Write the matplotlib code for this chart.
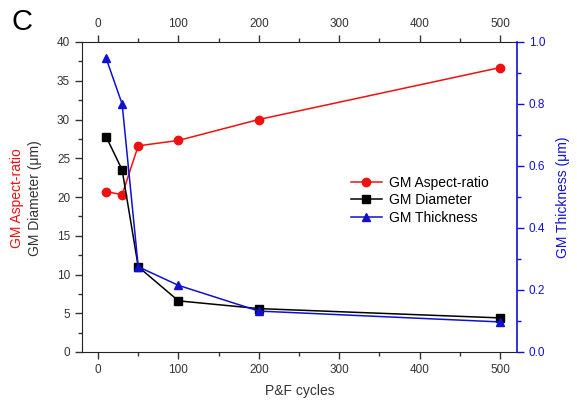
import matplotlib
matplotlib.use("Agg")
import matplotlib.pyplot as plt
from matplotlib.ticker import MultipleLocator

plt.rcParams['font.family'] = ['Liberation Sans', 'DejaVu Sans']

cycles = [10, 30, 50, 100, 200, 500]
aspect_ratio = [20.7, 20.3, 26.6, 27.3, 30.0, 36.7]
diameter = [27.8, 23.5, 11.0, 6.6, 5.6, 4.4]
thickness = [0.948, 0.80, 0.275, 0.215, 0.132, 0.097]

blue = '#1010d0'
tick_col = '#333333'

fig = plt.figure(figsize=(5.77, 4.0), dpi=100)
ax = fig.add_axes([0.142, 0.12, 0.754, 0.775])
ax2 = ax.twinx()

l1, = ax.plot(cycles, aspect_ratio, '-o', color='#ee1111', ms=6, lw=1.1, label='GM Aspect-ratio')
l2, = ax.plot(cycles, diameter, '-s', color='black', ms=6, lw=1.1, label='GM Diameter')
l3, = ax2.plot(cycles, thickness, '-^', color=blue, ms=6, lw=1.1, label='GM Thickness')

ax.set_xlim(-20, 521)
ax.set_ylim(0, 40)
ax2.set_ylim(0, 1.0)

ax.xaxis.set_major_locator(MultipleLocator(100))
ax.xaxis.set_minor_locator(MultipleLocator(50))
ax.yaxis.set_major_locator(MultipleLocator(5))
ax.yaxis.set_minor_locator(MultipleLocator(2.5))
ax2.yaxis.set_major_locator(MultipleLocator(0.2))
ax2.yaxis.set_minor_locator(MultipleLocator(0.1))
ax2.yaxis.set_major_formatter(plt.FuncFormatter(lambda v, p: f'{v:.1f}'))

ax.tick_params(which='both', direction='out', top=True, labeltop=True,
               labelsize=8.5, colors=tick_col, width=1)
ax.tick_params(which='major', length=5)
ax.tick_params(which='minor', length=3)
ax2.tick_params(which='both', direction='out', labelsize=8.5, colors=blue, width=1)
ax2.tick_params(which='major', length=5)
ax2.tick_params(which='minor', length=3)

for s in ['left', 'bottom', 'top']:
    ax.spines[s].set_color('#222222')
ax2.spines['right'].set_color(blue)
ax2.spines['right'].set_linewidth(1.2)
ax.spines['right'].set_visible(False)
for s in ['left', 'bottom', 'top']:
    ax2.spines[s].set_visible(False)

ax.set_xlabel('P&F cycles', fontsize=10, color=tick_col, labelpad=6)
ax2.set_ylabel('GM Thickness (\u03bcm)', fontsize=10, color=blue, labelpad=8)

fig.text(0.029, 0.505, 'GM Aspect-ratio', rotation=90, color='#ee1111',
         fontsize=10, ha='center', va='center')
fig.text(0.06, 0.505, 'GM Diameter (\u03bcm)', rotation=90, color=tick_col,
         fontsize=10, ha='center', va='center')
fig.text(0.038, 0.945, 'C', fontsize=21, ha='center', va='center', color='black')

ax.legend(handles=[l1, l2, l3], loc='center left', bbox_to_anchor=(0.59, 0.49),
          frameon=False, fontsize=10, handlelength=2.2, labelspacing=0.25,
          handletextpad=0.5)

fig.savefig('out.png', dpi=100)
